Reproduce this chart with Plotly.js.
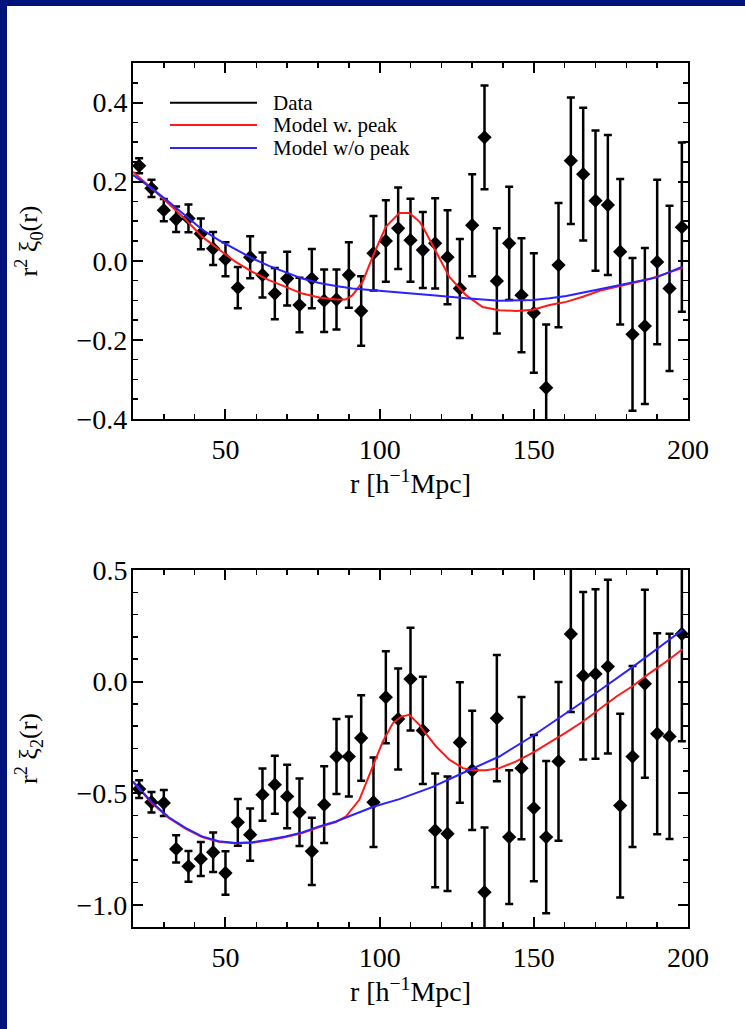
<!DOCTYPE html>
<html><head><meta charset="utf-8">
<script src="https://cdn.plot.ly/plotly-3.0.1.min.js"></script>
<style>
html,body{margin:0;padding:0;background:#00137a;width:745px;height:1029px;overflow:hidden;}
#plot{position:absolute;left:7px;top:6px;width:738px;height:1023px;background:#fff;}
</style></head><body><div id="plot"></div>
<script>
// ---- data: monopole (top) ----
const rBins = [22,26,30,34,38,42,46,50,54,58,62,66,70,74,78,82,86,90,94,98,102,106,110,114,118,122,126,130,134,138,142,146,150,154,158,162,166,170,174,178,182,186,190,194,198];
const xi0 = [0.240,0.183,0.128,0.105,0.107,0.068,0.031,0.004,-0.068,0.009,-0.036,-0.083,-0.045,-0.112,-0.045,-0.101,-0.098,-0.036,-0.127,0.019,0.050,0.082,0.052,0.027,0.044,0.009,-0.070,0.090,0.312,-0.051,0.044,-0.087,-0.132,-0.321,-0.011,0.253,0.219,0.152,0.141,0.023,-0.186,-0.165,-0.003,-0.070,0.085];
const xi0Err = [0.019,0.022,0.028,0.032,0.035,0.039,0.042,0.043,0.052,0.053,0.057,0.065,0.068,0.069,0.075,0.079,0.076,0.083,0.088,0.094,0.103,0.103,0.105,0.096,0.114,0.119,0.125,0.129,0.131,0.133,0.143,0.144,0.151,0.160,0.157,0.160,0.168,0.177,0.177,0.184,0.193,0.197,0.208,0.209,0.214];

const rPeak0 = [20,26.1,31.6,37.0,42.4,47.8,53.3,58.7,64.1,69.5,74.9,80.4,85.8,89.0,91.2,94.5,97.7,102.0,106.4,109.6,112.9,114,118.3,122.6,128,133.4,138.8,144.3,149.7,155.1,160.5,165.9,171.3,176.8,182.2,187.6,193,198.2];
const peak0 = [0.225,0.183,0.144,0.105,0.061,0.029,-0.003,-0.028,-0.049,-0.066,-0.083,-0.093,-0.098,-0.098,-0.087,-0.053,0.010,0.086,0.121,0.121,0.099,0.086,0.023,-0.041,-0.087,-0.117,-0.125,-0.127,-0.124,-0.112,-0.104,-0.091,-0.076,-0.066,-0.055,-0.046,-0.032,-0.018];

const rNoPeak0 = [20,26.1,31.6,37.0,42.4,47.8,53.3,58.7,64.1,69.5,74.9,80.4,85.8,91.2,96.6,102,107.5,117.2,128,138.8,149.7,155.1,160.5,171.3,182.2,189.8,198.2];
const noPeak0 = [0.217,0.183,0.149,0.113,0.079,0.052,0.029,0.006,-0.013,-0.030,-0.045,-0.056,-0.064,-0.070,-0.074,-0.078,-0.081,-0.087,-0.095,-0.101,-0.099,-0.095,-0.089,-0.072,-0.054,-0.042,-0.015];

// ---- data: quadrupole (bottom) ----
const xi2 = [-0.482,-0.541,-0.544,-0.750,-0.828,-0.795,-0.765,-0.858,-0.631,-0.686,-0.507,-0.462,-0.515,-0.586,-0.761,-0.552,-0.336,-0.336,-0.253,-0.541,-0.070,-0.168,0.011,-0.219,-0.667,-0.682,-0.273,-0.398,-0.944,-0.164,-0.697,-0.388,-0.567,-0.697,-0.358,0.213,0.026,0.034,0.067,-0.556,-0.336,-0.010,-0.234,-0.246,0.213];
const xi2Err = [0.040,0.046,0.058,0.061,0.069,0.076,0.088,0.097,0.105,0.117,0.117,0.130,0.142,0.151,0.151,0.172,0.168,0.179,0.192,0.201,0.206,0.226,0.230,0.240,0.255,0.257,0.270,0.267,0.290,0.283,0.300,0.319,0.328,0.341,0.356,0.350,0.375,0.380,0.389,0.412,0.406,0.421,0.450,0.460,0.480];

const rPeak2 = [20,26.1,31.6,37.0,42.4,47.8,53.3,58.7,64.1,69.5,74.9,80.4,85.8,89.1,93.4,97.7,101,104.3,107,109.6,112.9,114,118.3,122.6,127,130.2,134.5,138.8,144.3,149.7,155.1,160.5,165.9,171.3,176.8,182.2,187.6,193,198.2];
const peak2 = [-0.450,-0.544,-0.611,-0.659,-0.697,-0.718,-0.725,-0.722,-0.711,-0.697,-0.679,-0.652,-0.630,-0.604,-0.530,-0.380,-0.269,-0.186,-0.157,-0.149,-0.194,-0.216,-0.291,-0.350,-0.388,-0.398,-0.398,-0.388,-0.358,-0.318,-0.273,-0.228,-0.179,-0.124,-0.067,-0.019,0.038,0.090,0.145];

const rNoPeak2 = [20,26.1,31.6,37.0,42.4,47.8,53.3,58.7,64.1,69.5,74.9,80.4,85.8,91.2,98.2,106.4,117.2,128,138.8,149.7,160.5,171.3,182.2,198.2];
const noPeak2 = [-0.448,-0.541,-0.608,-0.656,-0.694,-0.716,-0.723,-0.720,-0.708,-0.694,-0.676,-0.649,-0.627,-0.597,-0.560,-0.527,-0.472,-0.403,-0.336,-0.243,-0.141,-0.040,0.067,0.231];

const legendLabels = ['Data','Model w. peak','Model w/o peak'];
const xTitle = 'r [h<sup>−1</sup>Mpc]';
const yTitleTop = 'r<sup>2</sup> ξ<sub>0</sub>(r)';
const yTitleBot = 'r<sup>2</sup> ξ<sub>2</sub>(r)';

// ---- styling ----
const FONT = '"Liberation Serif", "Times New Roman", serif';
const RED = '#ff1a1a', BLUE = '#2a22ff';

function dataTrace(y, err, xa, ya){
  return {x:rBins, y:y, xaxis:xa, yaxis:ya, type:'scatter', mode:'markers', showlegend:false,
    marker:{symbol:'diamond', size:11, color:'#000'},
    error_y:{type:'data', array:err, visible:true, color:'#000', thickness:2.5, width:4}};
}
function lineTrace(x, y, color, xa, ya){
  return {x:x, y:y, xaxis:xa, yaxis:ya, type:'scatter', mode:'lines', showlegend:false,
    line:{color:color, width:2}};
}
const traces = [
  dataTrace(xi0, xi0Err, 'x', 'y'),
  lineTrace(rPeak0, peak0, RED, 'x', 'y'),
  lineTrace(rNoPeak0, noPeak0, BLUE, 'x', 'y'),
  dataTrace(xi2, xi2Err, 'x2', 'y2'),
  lineTrace(rPeak2, peak2, RED, 'x2', 'y2'),
  lineTrace(rNoPeak2, noPeak2, BLUE, 'x2', 'y2')
];

function xAxis(anchor){
  return {domain:[0.1707,0.9228], range:[20,200], anchor:anchor, tick0:0, dtick:50,
    ticks:'inside', ticklen:10, tickwidth:2, tickcolor:'#000', mirror:'ticks', showline:true, linewidth:2, linecolor:'#000',
    showgrid:false, zeroline:false, automargin:false, ticklabelstandoff:4,
    tickfont:{family:FONT, size:28, color:'#000'},
    minor:{dtick:10, ticks:'inside', ticklen:5, tickwidth:1.5, tickcolor:'#000', showgrid:false},
    title:{text:xTitle, font:{family:FONT, size:28, color:'#000'}, standoff:4}};
}
function yAxis(anchor, domain, range, dtick, mdtick, title){
  return {domain:domain, range:range, anchor:anchor, tick0:0, dtick:dtick, tickformat:'.1f',
    ticks:'inside', ticklen:10, tickwidth:2, tickcolor:'#000', mirror:'ticks', showline:true, linewidth:2, linecolor:'#000',
    showgrid:false, zeroline:false, automargin:false, ticklabelstandoff:-2,
    tickfont:{family:FONT, size:28, color:'#000'},
    minor:{dtick:mdtick, ticks:'inside', ticklen:5, tickwidth:1.5, tickcolor:'#000', showgrid:false},
    title:{text:title, font:{family:FONT, size:26, color:'#000'}, standoff:31}};
}

const legendRows = [0.888, 0.826, 0.761];
const legendColors = ['#000', RED, BLUE];
const shapes = legendRows.map((yy,i)=>({type:'line', xref:'x domain', yref:'y domain', x0:0.0667, x1:0.2234, y0:yy, y1:yy, line:{color:legendColors[i], width:2}}));
const annotations = legendRows.map((yy,i)=>({xref:'x domain', yref:'y domain', x:0.2505, y:yy, xanchor:'left', yanchor:'middle', borderpad:0, text:legendLabels[i], showarrow:false, font:{family:FONT, size:21, color:'#000'}}));

const layout = {
  width:738, height:1023, margin:{l:0, r:0, t:0, b:0},
  paper_bgcolor:'#fff', plot_bgcolor:'#fff', showlegend:false,
  xaxis: xAxis('y'),
  yaxis: yAxis('x', [0.5963,0.9443], [-0.4,0.5], 0.2, 0.05, yTitleTop),
  xaxis2: xAxis('y2'),
  yaxis2: yAxis('x2', [0.0997,0.4487], [-1.1,0.5], 0.5, 0.1, yTitleBot),
  shapes: shapes, annotations: annotations
};
Plotly.newPlot('plot', traces, layout, {displayModeBar:false, staticPlot:true});
</script></body></html>
